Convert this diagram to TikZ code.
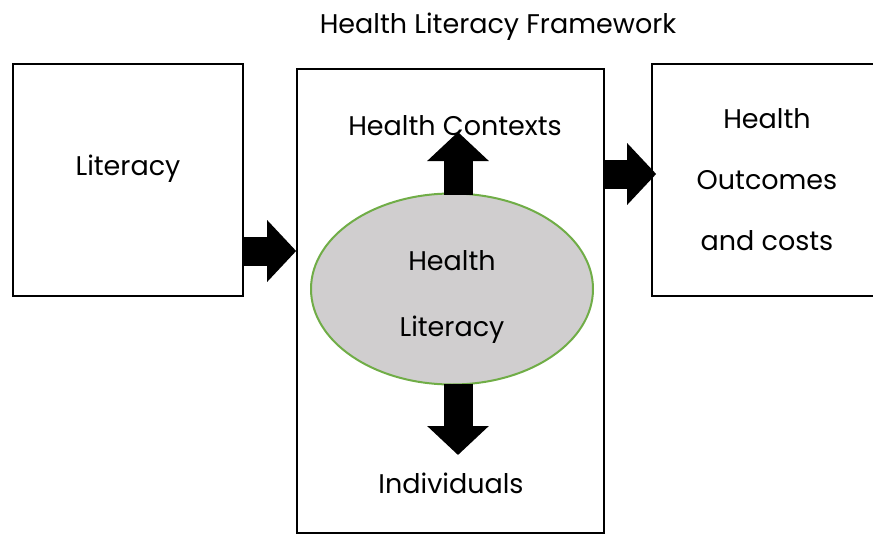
\documentclass[tikz,border=0pt]{standalone}
\usepackage{fontspec}
\setmainfont{Poppins}
\usetikzlibrary{arrows.meta,shapes.geometric}

\definecolor{ovalgray}{RGB}{208,206,207}
\definecolor{ovalgreen}{RGB}{112,173,71}

\tikzset{
	box/.style={draw,line width=1.6pt,inner sep=0pt},
	txt/.style={font=\fontsize{27}{32}\selectfont,inner sep=0pt},
	fatarrow/.style={line width=29pt,-{Triangle[length=29pt,width=60pt]}},
}

\begin{document}
\begin{tikzpicture}[x=1pt,y=-1pt]
		\useasboundingbox (0,0) rectangle (873,535);

		\node[txt] (title) at (498,27) {Health Literacy Framework};

		\node[box,minimum width=230pt,minimum height=232pt,label={[txt,yshift=11pt]center:Literacy}] (lit) at (128,180) {};
		\node[box,minimum width=307pt,minimum height=464pt] (mid) at (450.5,301) {};
		\node[box,minimum width=230pt,minimum height=232pt,align=center,txt,font=\fontsize{27}{61}\selectfont] (out) at (767,180) {Health\\Outcomes\\and costs};

		\node[ellipse,draw=ovalgreen,fill=ovalgray,line width=2pt,minimum width=282pt,minimum height=191pt,inner sep=0pt] (hl) at (452,289) {};
		\node[txt,align=center,font=\fontsize{27}{66}\selectfont] (hltext) at (452,297) {Health\\Literacy};

		\node[txt] (ctx) at (455,126) {Health Contexts};
		\node[txt] (ind) at (451,483) {Individuals};
		\coordinate (ctxtip) at (458,132);
		\coordinate (indtip) at (458,455);

		\draw[fatarrow] ([yshift=-71pt]lit.east) -- ([yshift=50pt]mid.west);
		\draw[fatarrow] ([yshift=127pt]mid.east) -- ([xshift=5pt,yshift=6pt]out.west);
		\draw[fatarrow] ([xshift=6pt,yshift=-2pt]hl.north) -- (ctxtip);
		\draw[fatarrow] ([xshift=6pt,yshift=2pt]hl.south) -- (indtip);
	\end{tikzpicture}
\end{document}
